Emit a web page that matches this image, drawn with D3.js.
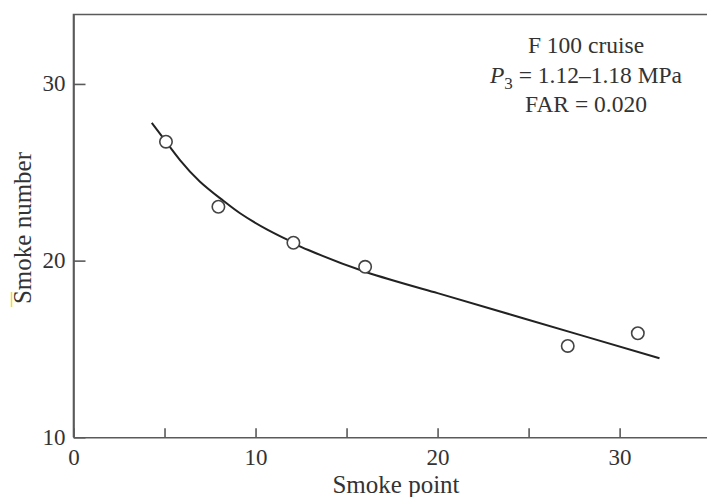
<!DOCTYPE html>
<html>
<head>
<meta charset="utf-8">
<script src="https://d3js.org/d3.v7.min.js"></script>
<style>
  body { margin: 0; background: #fff; }
  svg text { font-family: "Liberation Serif", "Times New Roman", serif; fill: #333; }
</style>
</head>
<body>
<div id="chart"></div>
<script>
// measured points (smoke point vs smoke number)
const smokePoint = [5.08, 7.96, 12.08, 16.02, 27.15, 31.0];
const smokeNumber = [26.73, 23.05, 21.01, 19.65, 15.17, 15.89];

// fitted curve
const fitX = [4.3, 5.08, 5.85, 6.95, 8.23, 9.15, 10.62, 12.08, 12.9, 16.02, 20, 24, 28, 32.19];
const fitY = [27.8, 26.73, 25.69, 24.47, 23.39, 22.68, 21.77, 21.01, 20.6, 19.37, 18.16, 16.95, 15.74, 14.47];

const xTicks = [0, 5, 10, 15, 20, 25, 30];
const xLabels = [0, 10, 20, 30];
const yTicks = [10, 20, 30];

const W = 707, H = 497;
const margin = {top: 14.5, right: 0, bottom: 60, left: 73.5};

const svg = d3.select("#chart").append("svg")
    .attr("width", W)
    .attr("height", H);

const x = d3.scaleLinear().domain([0, 34.8]).range([margin.left, W - margin.right]);
const y = d3.scaleLinear().domain([10, 33.93]).range([437.3, margin.top]);

const axisColor = "#5a5a5a";

// frame: left and top lines
svg.append("path")
    .attr("d", `M${x(0)},${y(10)}V${margin.top}H${W}`)
    .attr("fill", "none")
    .attr("stroke", axisColor)
    .attr("stroke-width", 1.6);

// x axis
const xAxis = svg.append("g")
    .attr("transform", `translate(0,${y(10)})`)
    .call(d3.axisBottom(x).tickValues(xTicks).tickSizeInner(-9).tickSizeOuter(0)
        .tickFormat(d => xLabels.includes(d) ? d : ""));
xAxis.select(".domain").attr("stroke", axisColor).attr("stroke-width", 1.6);
xAxis.selectAll(".tick line").attr("stroke", axisColor).attr("stroke-width", 1.6);
xAxis.selectAll(".tick text")
    .attr("y", 0).attr("dy", "1.2em")
    .style("font-size", "23px");

// y axis
const yAxis = svg.append("g")
    .attr("transform", `translate(${x(0)},0)`)
    .call(d3.axisLeft(y).tickValues(yTicks).tickSizeInner(-12).tickSizeOuter(0));
yAxis.select(".domain").attr("stroke", axisColor).attr("stroke-width", 1.6);
yAxis.selectAll(".tick text")
    .attr("x", -8).attr("dy", "0.3em")
    .style("font-size", "23px");
yAxis.selectAll(".tick line").attr("stroke", axisColor).attr("stroke-width", 1.6);

// axis titles
svg.append("text")
    .attr("x", 396).attr("y", 493)
    .attr("text-anchor", "middle")
    .style("font-size", "25px")
    .text("Smoke point");

svg.append("text")
    .attr("transform", `translate(31,228) rotate(-90)`)
    .attr("text-anchor", "middle")
    .style("font-size", "25px")
    .text("Smoke number");

// little yellow marker next to the y title
svg.append("line")
    .attr("x1", 11.5).attr("x2", 11.5).attr("y1", 292).attr("y2", 307)
    .attr("stroke", "#f2e01c").attr("stroke-width", 1.5);

// fitted curve
const fit = fitX.map((d, i) => [d, fitY[i]]);
svg.append("path")
    .datum(fit)
    .attr("fill", "none")
    .attr("stroke", "#222")
    .attr("stroke-width", 2)
    .attr("d", d3.line().x(d => x(d[0])).y(d => y(d[1])).curve(d3.curveNatural));

// data points
svg.selectAll("circle.pt")
    .data(smokePoint.map((d, i) => [d, smokeNumber[i]]))
    .join("circle")
    .attr("class", "pt")
    .attr("cx", d => x(d[0]))
    .attr("cy", d => y(d[1]))
    .attr("r", 6.2)
    .attr("fill", "#fff")
    .attr("stroke", "#444")
    .attr("stroke-width", 1.6);

// annotation
const note = svg.append("g").attr("text-anchor", "middle").style("font-size", "23.5px");
note.append("text").attr("x", 586).attr("y", 53).text("F 100 cruise");
const t2 = note.append("text").attr("x", 586).attr("y", 82.5);
t2.append("tspan").style("font-style", "italic").text("P");
t2.append("tspan").attr("dy", 6).style("font-size", "17px").text("3");
t2.append("tspan").attr("dy", -6).text(" = 1.12\u20131.18 MPa");
note.append("text").attr("x", 586).attr("y", 111.5).text("FAR = 0.020");
</script>
</body>
</html>
